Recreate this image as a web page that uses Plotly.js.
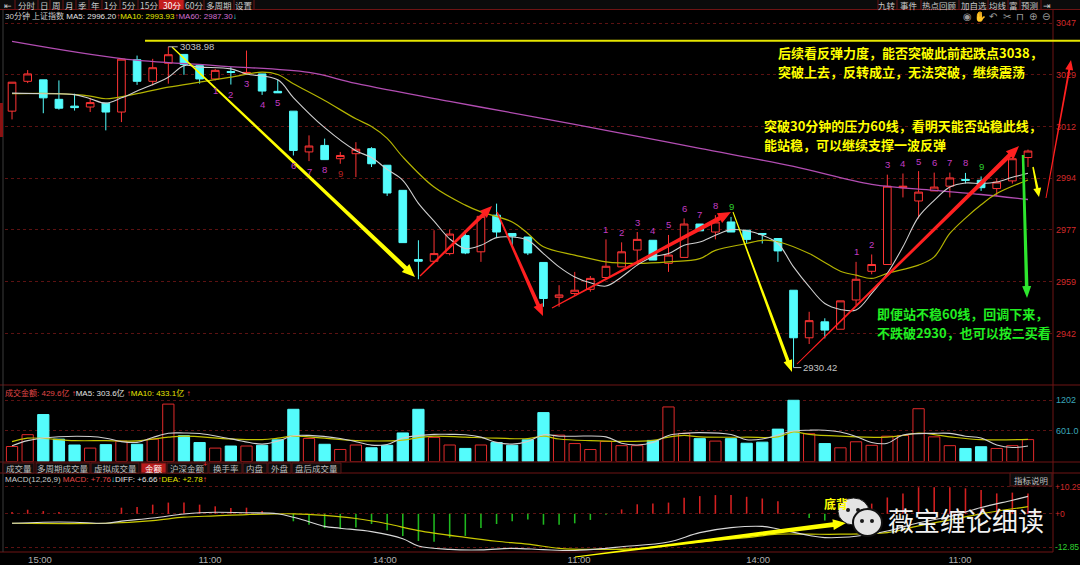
<!DOCTYPE html>
<html><head><meta charset="utf-8">
<script src="https://cdn.plot.ly/plotly-3.0.1.min.js"></script>
<style>html,body{margin:0;padding:0;background:#000;overflow:hidden}#chart{width:1080px;height:565px}</style>
</head><body><div id="chart"></div>
<script>
// ---------- DATA (30-minute bars, 上证指数) ----------
const barIdx = Array.from({length:66},(_,i)=>i);
const openP  = [3017.2,3027.3,3027.8,3021.2,3018.9,3018.6,3019.9,3016.9,3034.6,3027.3,3033.4,3036.4,3032.6,3028.1,3030.6,3030.0,3029.8,3023.9,3017.2,3003.4,3005.6,3001.1,3002.8,3004.5,2998.9,2990.4,2967.0,2966.4,2969.0,2975.1,2969.6,2982.0,2975.8,2974.6,2966.0,2954.2,2955.5,2956.9,2960.9,2964.5,2970.2,2973.5,2965.7,2967.7,2979.0,2976.3,2979.7,2976.9,2975.8,2974.1,2956.6,2940.5,2945.9,2943.4,2953.3,2963.0,2965.3,2991.3,2986.8,2990.2,2991.8,2994.1,2993.8,2991.0,2993.6,3001.5];
const highP  = [3027.0,3031.1,3027.8,3027.6,3023.1,3021.7,3019.9,3034.8,3036.0,3034.9,3038.98,3036.4,3032.6,3031.5,3032.1,3037.7,3029.8,3027.8,3017.2,3009.0,3007.9,3003.4,3006.7,3005.0,2998.9,2990.4,2973.5,2976.9,2977.1,2976.9,2981.6,2985.9,2975.8,2974.6,2966.0,2958.3,2962.8,2961.4,2973.8,2972.8,2976.3,2973.5,2975.3,2980.9,2979.0,2982.0,2981.4,2976.9,2975.8,2974.1,2956.6,2949.3,2947.1,2953.0,2966.2,2968.7,2995.7,2996.1,2996.9,2996.4,2996.4,2996.3,2995.1,2994.4,3002.6,3004.2];
const lowP   = [3014.4,3026.7,3016.5,3017.7,3017.4,3016.9,3010.7,3013.5,3026.1,3025.9,3026.5,3029.5,3026.5,3027.6,3026.2,3029.8,3022.7,3023.4,3002.2,3000.3,3000.8,2999.4,2994.9,2998.3,2988.5,2972.7,2960.3,2966.2,2968.4,2968.8,2966.2,2974.6,2971.8,2968.5,2951.0,2951.0,2954.8,2956.1,2960.6,2964.5,2965.1,2966.8,2962.8,2967.7,2976.7,2973.8,2976.3,2972.6,2972.4,2966.2,2930.42,2938.4,2940.3,2943.4,2951.6,2962.0,2965.3,2988.0,2980.9,2990.2,2988.0,2992.7,2990.2,2988.4,2992.7,2998.3];
const closeP = [3027.0,3029.8,3021.7,3018.2,3018.4,3020.1,3016.9,3034.8,3027.3,3031.9,3036.3,3033.0,3028.1,3031.0,3030.3,3030.3,3024.0,3023.4,3003.9,3005.4,3000.8,3002.2,3004.3,2999.4,2989.5,2972.7,2966.4,2969.0,2975.6,2969.2,2981.6,2976.3,2974.9,2969.2,2953.8,2955.0,2956.6,2960.6,2964.7,2969.6,2973.8,2966.8,2968.5,2979.0,2976.7,2979.7,2976.3,2973.8,2975.5,2969.9,2940.5,2946.3,2943.1,2953.0,2960.3,2965.3,2991.8,2991.8,2989.8,2991.5,2994.6,2993.8,2991.3,2993.2,3001.1,3003.7];

// price moving averages (bar index -> value)
const ma5Idx  = [0,2,4,5,6,7,8,10,11,12,14,15,17,18,20,22,23,24,25,26,27,28,29,30,31,32,33,34,35,36,37,38,39,40,41,42,43,44,45,46,47,48,49,50,51,52,53,54,55,56,57,58,59,60,61,62,63,64,65];
const ma5Val  = [3023.3,3023.1,3022.8,3021.4,3019.9,3021.7,3024.0,3028.7,3032.6,3032.1,3031.5,3029.8,3027.8,3021.8,3011.6,3003.8,3001.5,2997.5,2993.8,2986.0,2980.0,2974.0,2970.7,2971.8,2974.4,2974.6,2973.5,2969.0,2964.5,2961.1,2959.1,2958.0,2961.1,2965.1,2967.9,2969.0,2971.8,2972.9,2975.2,2977.1,2976.7,2975.2,2972.4,2964.5,2957.8,2952.1,2950.1,2949.9,2955.5,2962.3,2971.3,2981.4,2987.0,2991.5,2992.9,2992.7,2993.2,2994.8,2996.2];
const ma10Idx = [0,3,5,6,8,10,12,14,16,17,18,20,22,23,24,25,27,29,30,32,33,34,36,38,40,42,44,45,47,48,49,51,52,53,54,55,56,58,59,60,61,62,63,65];
const ma10Val = [3023.1,3023.1,3022.3,3021.4,3023.1,3025.3,3027.0,3028.7,3030.4,3029.6,3026.5,3020.8,3014.6,3012.0,3008.0,3001.7,2991.5,2985.4,2983.1,2979.7,2975.8,2971.3,2968.5,2966.2,2965.7,2966.2,2967.3,2970.1,2972.4,2973.5,2973.0,2969.0,2966.0,2963.0,2961.7,2960.6,2962.3,2965.1,2967.9,2975.8,2981.0,2985.5,2989.3,2993.9];
const ma60Idx = [0,7,13,19,22,28,34,38,44,50,55,59,62,65];
const ma60Val = [3040.8,3035.0,3032.6,3030.3,3026.6,3020.5,3014.7,3010.7,3004.6,2998.5,2992.4,2990.4,2989.0,2987.3];

// turnover (成交金额, 亿)
const amount = [294,527,922,439,324,263,331,399,338,439,1127,507,372,263,304,304,318,426,1025,453,338,236,324,270,318,561,1025,473,324,257,324,372,318,426,960,518,352,235,394,311,311,414,1071,553,449,401,449,359,380,636,1202,546,352,269,387,318,497,511,1036,484,311,256,290,256,311,430];
const amtMa5Idx = [0,1,3,5,6,7,8,9,10,11,12,14,16,17,18,19,21,22,23,24,25,27,28,29,30,31,32,33,34,35,36,38,39,40,41,42,43,44,46,47,48,50,51,52,53,54,55,56,57,59,60,61,62,63,64,65];
const amtMa5Val = [307,410,485,490,458,390,376,470,555,560,550,444,342,400,505,512,450,389,321,335,460,532,532,526,478,376,342,394,526,497,497,484,359,325,373,511,553,567,530,428,442,600,615,615,580,490,373,359,520,553,553,497,463,325,276,304];
const amtMa10Idx = [0,1,4,6,8,10,11,14,16,17,18,20,22,25,26,27,29,31,33,34,35,37,39,41,42,43,44,47,49,50,51,53,56,57,58,60,62,65];
const amtMa10Val = [389,458,410,410,403,478,499,444,430,458,499,458,410,420,470,499,478,458,450,497,442,408,394,414,480,511,484,477,484,580,532,497,477,511,560,484,428,433];

// MACD(12,26,9)
const macdHist = [0.65,1.56,1.04,0.65,0.2,0.39,0.1,2.34,2.6,3.51,4.29,4.29,3.51,2.86,2.2,2.34,1.04,0.26,-2.86,-4.16,-5.46,-5.85,-5.2,-3.9,-6.24,-8.45,-10.4,-10.66,-9.1,-8.45,-5.46,-3.9,-2.86,-2.21,-4.16,-4.16,-3.64,-2.34,-0.39,1.69,3.64,3.9,4.29,6.11,6.76,7.15,7.15,6.5,5.85,4.81,0.39,-1.56,-2.6,-1.2,1.5,3.9,6.24,7.8,10.14,10.14,10.14,9.75,9.1,7.8,8.1,7.76];
const diffIdx = [0,2,4,6,7,9,11,12,13,15,17,18,19,20,21,23,25,26,28,30,32,34,36,38,39,42,44,46,48,49,51,52,54,56,58,60,62,64,65];
const diffVal = [-3.6,-3.2,-3.2,-3.6,-2.8,-1.6,-0.1,0.4,0.6,0.4,0.0,-1.3,-3.0,-4.8,-5.5,-6.8,-9.5,-12.3,-13.6,-13.8,-13.2,-13.7,-14.0,-13.2,-12.6,-10.8,-7.2,-5.3,-4.8,-5.8,-8.3,-9.1,-8.6,-6.6,-3.4,-1.0,2.4,5.2,6.66];
const deaIdx = [0,6,9,11,13,15,18,20,22,24,26,29,31,33,35,37,40,42,44,47,49,51,53,56,58,60,62,65];
const deaVal = [-3.6,-3.6,-2.6,-1.3,-0.8,-0.3,0.0,-0.6,-1.8,-3.8,-6.4,-9.0,-10.5,-11.6,-13.2,-13.6,-13.3,-12.0,-10.7,-9.1,-7.8,-7.8,-7.8,-7.2,-4.6,-2.3,0.0,2.78];

// axis ticks / labels
const timeTickPos = [1.79,12.67,23.86,36.28,47.73,60.65];
const timeTickText = ['15:00','11:00','14:00','11:00','14:00','11:00'];
const priceTickVals = [3047,3029.5,3012,2994.5,2977,2959.5,2942];
const priceTickText = ['3047','3029','3012','2994','2977','2959','2942'];
const amtTickVals = [601,1202];
const amtTickText = ['601.0','1202'];
const macdTickVals = [-12.85,0,10.29];
const macdTickText = ['<span style="color:#2fd12f">-12.85</span>','+0','+10.29'];

// 九转 sequence counts
const nineA = {idx:[13,14,15,16,17,18,19,20,21], label:['1','2','3','4','5','6','7','8','9']}; // below lows
const nineB = {idx:[38,39,40,41,42,43,44,45,46], label:['1','2','3','4','5','6','7','8','9']}; // above highs
const nineC = {idx:[54,55,56,57,58,59,60,61,62], label:['1','2','3','4','5','6','7','8','9']}; // above highs

// ---------- HELPERS ----------
const W=1080,H=565;
const PX=x=>x/W, PY=y=>1-y/H;
const CJK="'Noto Sans CJK SC','Liberation Sans',sans-serif";
const NUM="'Liberation Sans','Noto Sans CJK SC',sans-serif";
const annotations=[], shapes=[];
function txt(x,y,text,color,size,o){o=o||{};annotations.push({xref:'paper',yref:'paper',x:PX(x),y:PY(y),text:text,showarrow:false,xanchor:o.anchor||'left',yanchor:'middle',font:{family:o.family||NUM,size:size,color:color,weight:o.weight||'normal'}});}
function hline(x0,x1,y,color,w,dash){shapes.push({type:'line',xref:'paper',yref:'paper',x0:PX(x0),x1:PX(x1),y0:PY(y),y1:PY(y),line:{color:color,width:w||1,dash:dash||'solid'}});}
function vline(x,y0,y1,color,w){shapes.push({type:'line',xref:'paper',yref:'paper',x0:PX(x),x1:PX(x),y0:PY(y0),y1:PY(y1),line:{color:color,width:w||1}});}
function rect(x0,y0,x1,y1,fill,line){shapes.push({type:'rect',xref:'paper',yref:'paper',x0:PX(x0),x1:PX(x1),y0:PY(y1),y1:PY(y0),fillcolor:fill,line:{color:line||fill,width:line?1:0}});}
function ellipse(x0,y0,x1,y1,fill,line,lw){shapes.push({type:'circle',xref:'paper',yref:'paper',x0:PX(x0),x1:PX(x1),y0:PY(y1),y1:PY(y0),fillcolor:fill,line:{color:line,width:lw||0}});}
function arrow(x0,y0,x1,y1,color,w0,w1,hl,hw){
  const dx=x1-x0,dy=y1-y0,L=Math.hypot(dx,dy),ux=dx/L,uy=dy/L,nx=-uy,ny=ux;
  const bx=x1-ux*hl,by=y1-uy*hl;
  const p=[[x0+nx*w0/2,y0+ny*w0/2],[bx+nx*w1/2,by+ny*w1/2],[bx+nx*hw/2,by+ny*hw/2],[x1,y1],[bx-nx*hw/2,by-ny*hw/2],[bx-nx*w1/2,by-ny*w1/2],[x0-nx*w0/2,y0-ny*w0/2]];
  shapes.push({type:'path',xref:'paper',yref:'paper',path:'M'+p.map(q=>PX(q[0]).toFixed(5)+','+PY(q[1]).toFixed(5)).join('L')+'Z',fillcolor:color,line:{width:0}});
}
const sp=(c,t)=>'<span style="color:'+c+'">'+t+'</span>';

// ---------- FRAME / TOOLBARS ----------
const FR='#6e1414';
rect(0,0,1080,9,'#0b0b0b');
hline(0,1080,9.5,FR,1);
hline(0,1080,385,FR,1);
hline(0,1080,462,FR,1);
hline(0,1080,473,FR,1);
hline(0,1053,552,FR,1);
vline(1053,9.5,552,FR,1);
vline(3,9.5,552,'#3a3a3a',1);
rect(0,103,3,137,'#8a1212');

const tbL=[['⇤',0,15],['分时',16,38],['日',38,50],['周',50,63],['月',63,76],['季',76,89],['年',89,102],['1分',102,120],['5分',120,138],['15分',138,159],['30分',159,184],['60分',184,204],['多周期',204,234],['设置',234,254]];
tbL.forEach(t=>{ if(t[0]==='30分') rect(t[1],0,t[2],9,'#c41d1d'); vline(t[2],0,9,FR,1); txt((t[1]+t[2])/2,4.5,t[0],t[0]==='30分'?'#ffffff':'#c8c8c8',8.5,{anchor:'center',family:CJK}); });
const tbR=[['九转',878,896],['事件',897,920],['热点回顾',921,958],['加自选',959,988],['均线',988,1007],['富',1008,1019],['预测',1020,1039],['⇥',1041,1053]];
tbR.forEach(t=>{ vline(t[1],0,9,FR,1); txt((t[1]+t[2])/2,4.5,t[0],'#c8c8c8',8.5,{anchor:'center',family:CJK}); });
[['◉',967],['✋',980],['↶',993],['✂',1007],['⊓',1020],['⊕',1033],['⊖',1046]].forEach(t=>txt(t[1],16,t[0],'#9a9a9a',10,{anchor:'center',family:"'DejaVu Sans',sans-serif"}));

// headers (one text each, coloured parts)
txt(3,16, sp('#cfcfcf','30分钟 上证指数 ')+sp('#e2e2e2','MA5: 2996.20')+sp('#ff4040','↑')+sp('#e6e600','MA10: 2993.93')+sp('#ff4040','↑')+sp('#d070d0','MA60: 2987.30')+sp('#3fe0e0','↓'),'#cfcfcf',8,{family:NUM});
txt(3,393, sp('#e04848','成交金额: 429.6亿 ')+sp('#ff4040','↑')+sp('#e2e2e2','MA5: 303.6亿 ')+sp('#ff4040','↑')+sp('#e6e600','MA10: 433.1亿 ')+sp('#ff4040','↑'),'#cfcfcf',8,{family:NUM});
txt(3,479, sp('#c8c8c8','MACD(12,26,9) ')+sp('#e04848','MACD: +7.76')+sp('#3fe0e0','↓')+sp('#e2e2e2','DIFF: +6.66')+sp('#ff4040','↑')+sp('#e6e600','DEA: +2.78')+sp('#ff4040','↑'),'#cfcfcf',8,{family:NUM});

// tab bar
const tabs=[['成交量',3,34],['多周期成交量',36,90],['虚拟成交量',91,139],['金额',141,166],['沪深金额',167,208],['换手率',209,242],['内盘',243,267],['外盘',268,291],['盘后成交量',292,341]];
tabs.forEach(t=>{ const act=t[0]==='金额'; rect(t[1],463,t[2],473,act?'#b81c1c':'#0d0d0d','#5a1616'); txt((t[1]+t[2])/2,468,t[0],act?'#ffffff':'#bdbdbd',8.5,{anchor:'center',family:CJK}); });
txt(205,464,'+','#ff3030',7,{anchor:'center',family:NUM});
rect(1010,473,1052,486,'#0d0d0d','#5a1616');
txt(1031,479.5,'指标说明','#bdbdbd',8.5,{anchor:'center',family:CJK});

// ---------- DRAWINGS (hand annotations on the screenshot) ----------
hline(145,1080,40.7,'#e6e600',2);
arrow(172,47,415,277,'#ffff00',1.2,4.5,13,11);
arrow(420,276,492,206,'#ff2020',1.2,4,12,10);
arrow(497,212,543,316,'#ff2020',1.5,4,12,10);
arrow(552,308,731,212,'#ff2020',1,4.5,13,11);
arrow(733,212,792,372,'#ffff00',1,3.5,12,9);
arrow(797,364,1019,146,'#ff2020',1,4.5,13,11);
arrow(1033,167,1039,197,'#ffff00',1.5,2.5,9,8);
arrow(1023,155,1027,298,'#2ee62e',2.5,3.5,12,9);
arrow(1046,198,1071,60,'#ff2020',1,2,10,8);
arrow(575,557,846,523,'#ffff00',1,5,13,11);

txt(776,52,'后续看反弹力度，能否突破此前起跌点3038，','#ffff00',13,{family:CJK,weight:'bold'});
txt(776,71,'突破上去，反转成立，无法突破，继续震荡','#ffff00',13,{family:CJK,weight:'bold'});
txt(762,126,'突破30分钟的压力60线，看明天能否站稳此线，','#ffff00',13,{family:CJK,weight:'bold'});
txt(762,145,'能站稳，可以继续支撑一波反弹','#ffff00',13,{family:CJK,weight:'bold'});
txt(875,313,'即便站不稳60线，回调下来，','#22ee22',13,{family:CJK,weight:'bold'});
txt(875,332,'不跌破2930，也可以按二买看','#22ee22',13,{family:CJK,weight:'bold'});
txt(822,503,'底背','#ffff00',12,{family:CJK,weight:'bold'});

// watermark logo
ellipse(838,498,869,525,'#e4e4e4','#1a1a1a',1);
ellipse(846,508,850,512,'#1a1a1a','#1a1a1a');
ellipse(856,508,860,512,'#1a1a1a','#1a1a1a');
ellipse(853,509,882,536,'#e4e4e4','#111111',2);
ellipse(860,519,864,523,'#1a1a1a','#1a1a1a');
ellipse(870,519,874,523,'#1a1a1a','#1a1a1a');
txt(886,519,'薇宝缠论细读','#f2f2f2',26,{family:CJK});

// extreme labels
const hiV=Math.max(...highP), hiI=highP.indexOf(hiV);
const loV=Math.min(...lowP), loI=lowP.indexOf(loV);
shapes.push({type:'line',xref:'x',yref:'y',x0:hiI,x1:hiI+0.6,y0:hiV,y1:hiV,line:{color:'#bdbdbd',width:1}});
shapes.push({type:'line',xref:'x',yref:'y',x0:loI,x1:loI+0.5,y0:loV,y1:loV,line:{color:'#bdbdbd',width:1}});
annotations.push({xref:'x',yref:'y',x:hiI+0.6,y:hiV,text:hiV.toFixed(2),showarrow:false,xanchor:'left',yanchor:'middle',font:{family:NUM,size:9.5,color:'#c4c4c4'}});
annotations.push({xref:'x',yref:'y',x:loI+0.5,y:loV,text:loV.toFixed(2),showarrow:false,xanchor:'left',yanchor:'middle',font:{family:NUM,size:9.5,color:'#c4c4c4'}});

// 九转 labels
function nine(set,above,lastColor){
  set.idx.forEach((i,k)=>{
    const c = k===8 ? lastColor : '#c23cc2';
    annotations.push({xref:'x',yref:'y',x:i,y:above?highP[i]:lowP[i],yshift:above?10:-10,text:set.label[k],showarrow:false,xanchor:'center',yanchor:'middle',font:{family:NUM,size:9.5,color:c}});
  });
}
nine(nineA,false,'#b82222');
nine(nineB,true,'#2fd12f');
nine(nineC,true,'#2fd12f');

// ---------- TRACES ----------
const up = barIdx.map(i=>closeP[i]>=openP[i]);
const traces=[
 {type:'candlestick',x:barIdx,open:openP,high:highP,low:lowP,close:closeP,xaxis:'x',yaxis:'y',
  increasing:{line:{color:'#ff3434',width:1},fillcolor:'#000000'},
  decreasing:{line:{color:'#54fcfc',width:1},fillcolor:'#54fcfc'},whiskerwidth:0,hoverinfo:'skip'},
 {type:'scatter',mode:'lines',x:ma60Idx,y:ma60Val,line:{color:'#b24db2',width:1.3,shape:'spline'},xaxis:'x',yaxis:'y'},
 {type:'scatter',mode:'lines',x:ma10Idx,y:ma10Val,line:{color:'#b3b300',width:1.2,shape:'spline'},xaxis:'x',yaxis:'y'},
 {type:'scatter',mode:'lines',x:ma5Idx,y:ma5Val,line:{color:'#cfcfcf',width:1.1,shape:'spline'},xaxis:'x',yaxis:'y'},
 {type:'bar',x:barIdx,y:amount,width:0.72,xaxis:'x',yaxis:'y2',
  marker:{color:up.map(u=>u?'#000000':'#54fcfc'),line:{color:up.map(u=>u?'#e02a2a':'#54fcfc'),width:1}}},
 {type:'scatter',mode:'lines',x:amtMa10Idx,y:amtMa10Val,line:{color:'#c2c200',width:1.2,shape:'spline'},xaxis:'x',yaxis:'y2'},
 {type:'scatter',mode:'lines',x:amtMa5Idx,y:amtMa5Val,line:{color:'#cfcfcf',width:1.1,shape:'spline'},xaxis:'x',yaxis:'y2'},
 {type:'bar',x:barIdx,y:macdHist,width:0.1,xaxis:'x',yaxis:'y3',marker:{color:macdHist.map(v=>v>=0?'#d42020':'#1fb81f'),line:{width:0}}},
 {type:'scatter',mode:'lines',x:deaIdx,y:deaVal,line:{color:'#c8c800',width:1.2,shape:'spline'},xaxis:'x',yaxis:'y3'},
 {type:'scatter',mode:'lines',x:diffIdx,y:diffVal,line:{color:'#d8d8d8',width:1.1,shape:'spline'},xaxis:'x',yaxis:'y3'}
];

const grid={gridcolor:'#5c1212',griddash:'dot',gridwidth:1};
const layout={
 width:W,height:H,margin:{l:0,r:0,t:0,b:0},paper_bgcolor:'#000',plot_bgcolor:'#000',showlegend:false,
 hovermode:false,barmode:'overlay',
 xaxis:{domain:[5/W,1053/W],range:[-0.45,66.6],anchor:'y3',showgrid:false,zeroline:false,
   tickmode:'array',tickvals:timeTickPos,ticktext:timeTickText,ticks:'',ticklabelstandoff:0,
   tickfont:{family:NUM,size:9.5,color:'#b0b0b0'},rangeslider:{visible:false},fixedrange:true},
 yaxis:Object.assign({domain:[1-383/H,1-9.5/H],range:[2925.2,3051.6],side:'right',anchor:'x',
   tickmode:'array',tickvals:priceTickVals,ticktext:priceTickText,ticks:'',ticklabelstandoff:2,
   tickfont:{family:NUM,size:9,color:'#d22a2a'},zeroline:false,fixedrange:true},grid),
 yaxis2:Object.assign({domain:[1-461.5/H,1-385/H],range:[0,1502],side:'right',anchor:'x',
   tickmode:'array',tickvals:amtTickVals,ticktext:amtTickText,ticks:'',ticklabelstandoff:2,
   tickfont:{family:NUM,size:9,color:'#3aa6b9'},zeroline:false,fixedrange:true},grid),
 yaxis3:Object.assign({domain:[1-552/H,1-473/H],range:[-14.6,15.6],side:'right',anchor:'x',
   tickmode:'array',tickvals:macdTickVals,ticktext:macdTickText,ticks:'',ticklabelstandoff:1,
   tickfont:{family:NUM,size:8.5,color:'#d22a2a'},zeroline:false,fixedrange:true},grid),
 shapes:shapes,annotations:annotations
};
Plotly.newPlot('chart',traces,layout,{staticPlot:true,displayModeBar:false});
</script></body></html>
